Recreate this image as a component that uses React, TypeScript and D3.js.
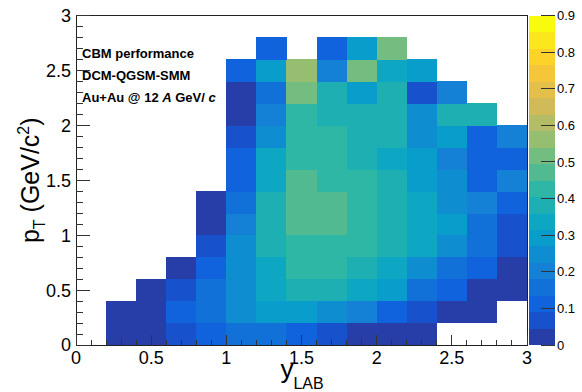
import React from "react";
import * as d3 from "d3";

// pT bins (rows, 0.2 GeV/c wide, from pT = 0 upward) x y_LAB bins (columns, 0.2 wide, from y = 0)
const Y_BIN = 0.2;
const PT_BIN = 0.2;
const VALUES: (number | null)[][] = [
  [null, 0.02, 0.03, 0.07, 0.11, 0.16, 0.15, 0.12, 0.06, 0.03, 0.03, 0.02, null, null, null],
  [null, 0.03, 0.04, 0.11, 0.16, 0.25, 0.29, 0.29, 0.24, 0.2, 0.12, 0.07, 0.03, 0.02, null],
  [null, null, 0.03, 0.06, 0.16, 0.25, 0.34, 0.38, 0.37, 0.33, 0.29, 0.15, 0.11, 0.03, 0.02],
  [null, null, null, 0.03, 0.11, 0.25, 0.34, 0.42, 0.42, 0.38, 0.34, 0.25, 0.16, 0.1, 0.03],
  [null, null, null, null, 0.07, 0.25, 0.38, 0.43, 0.43, 0.42, 0.38, 0.34, 0.25, 0.16, 0.07],
  [null, null, null, null, 0.03, 0.2, 0.38, 0.47, 0.47, 0.43, 0.38, 0.34, 0.29, 0.16, 0.07],
  [null, null, null, null, 0.02, 0.16, 0.38, 0.47, 0.47, 0.43, 0.38, 0.34, 0.25, 0.2, 0.11],
  [null, null, null, null, null, 0.11, 0.34, 0.47, 0.43, 0.43, 0.38, 0.29, 0.25, 0.11, 0.2],
  [null, null, null, null, null, 0.11, 0.34, 0.43, 0.43, 0.38, 0.34, 0.29, 0.2, 0.11, 0.11],
  [null, null, null, null, null, 0.07, 0.25, 0.43, 0.43, 0.38, 0.38, 0.25, 0.29, 0.11, 0.2],
  [null, null, null, null, null, 0.03, 0.2, 0.43, 0.38, 0.38, 0.38, 0.25, 0.38, 0.38, null],
  [null, null, null, null, null, 0.03, 0.16, 0.52, 0.38, 0.29, 0.38, 0.07, 0.2, null, null],
  [null, null, null, null, null, 0.11, 0.29, 0.56, 0.2, 0.52, 0.34, 0.29, null, null, null],
  [null, null, null, null, null, null, 0.11, null, 0.12, 0.29, 0.52, null, null, null, null],
  [null, null, null, null, null, null, null, null, null, null, null, null, null, null, null],
];

const X_TICKS = ["0", "0.5", "1", "1.5", "2", "2.5", "3"];
const Y_TICKS = ["0", "0.5", "1", "1.5", "2", "2.5", "3"];
const Z_TICKS = ["0", "0.1", "0.2", "0.3", "0.4", "0.5", "0.6", "0.7", "0.8", "0.9"];
const Z_MIN = 0;
const Z_MAX = 0.9;
const N_CONTOURS = 20;
const INFO_LINES = ["CBM performance", "DCM-QGSM-SMM"];

// ROOT kBird palette stops
const BIRD_STOPS = [0.0, 0.125, 0.25, 0.375, 0.5, 0.625, 0.75, 0.875, 1.0];
const BIRD_R = [0.2082, 0.0592, 0.078, 0.0232, 0.1802, 0.5301, 0.8186, 0.9956, 0.9764];
const BIRD_G = [0.1664, 0.3599, 0.5041, 0.6419, 0.7178, 0.7492, 0.7328, 0.7862, 0.9832];
const BIRD_B = [0.5293, 0.8684, 0.8385, 0.7914, 0.6425, 0.4662, 0.3499, 0.1968, 0.0539];

const birdR = d3.scaleLinear(BIRD_STOPS, BIRD_R).clamp(true);
const birdG = d3.scaleLinear(BIRD_STOPS, BIRD_G).clamp(true);
const birdB = d3.scaleLinear(BIRD_STOPS, BIRD_B).clamp(true);
const bird = (t: number) =>
  d3.rgb(birdR(t) * 255, birdG(t) * 255, birdB(t) * 255).formatHex();

const levelColor = (level: number) => {
  const idx = Math.floor(((level + 0.99) * 255) / N_CONTOURS);
  return bird(Math.min(idx, 254) / 254);
};
const valueLevel = (v: number) =>
  Math.max(0, Math.min(N_CONTOURS - 1, Math.floor(0.01 + ((v - Z_MIN) * N_CONTOURS) / (Z_MAX - Z_MIN))));

const FONT = "'Liberation Sans', Arial, Helvetica, sans-serif";

const W = 582;
const H = 392;
const L = 76;
const R = 527;
const T = 15.5;
const B = 345;
const BAR_L = 529;
const BAR_R = 555;

export default function App() {
  const x = d3.scaleLinear().domain([0, 3]).range([L, R]);
  const y = d3.scaleLinear().domain([0, 3]).range([B, T]);
  const z = d3.scaleLinear().domain([Z_MIN, Z_MAX]).range([B, T]);

  const cells: React.ReactNode[] = [];
  VALUES.forEach((row, j) =>
    row.forEach((v, i) => {
      if (v === null) return;
      const x0 = x(i * Y_BIN);
      const x1 = x((i + 1) * Y_BIN);
      const y0 = y((j + 1) * PT_BIN);
      const y1 = y(j * PT_BIN);
      cells.push(
        <rect key={`${i}-${j}`} x={x0} y={y0} width={x1 - x0 + 0.3} height={y1 - y0 + 0.3} fill={levelColor(valueLevel(v))} />
      );
    })
  );

  const minor = d3.range(0, 31).map((k) => k / 10);
  const major = X_TICKS.map(Number);
  const isMajor = (v: number) => major.some((m) => Math.abs(m - v) < 1e-6);

  const bands = d3.range(N_CONTOURS).map((k) => {
    const lo = Z_MIN + (k * (Z_MAX - Z_MIN)) / N_CONTOURS;
    const hi = Z_MIN + ((k + 1) * (Z_MAX - Z_MIN)) / N_CONTOURS;
    return { k, lo, hi };
  });

  return (
    <svg width={W} height={H} style={{ position: "absolute", left: 0, top: 0, background: "#fff" }} fontFamily={FONT}>
      <rect x={0} y={0} width={W} height={H} fill="#fff" />
      <g shapeRendering="crispEdges">{cells}</g>

      {/* frame */}
      <rect x={L} y={T} width={R - L} height={B - T} fill="none" stroke="#222" strokeWidth={1} shapeRendering="crispEdges" />

      {/* axis ticks */}
      <g stroke="#333" strokeWidth={1} shapeRendering="crispEdges">
        {minor.map((v) => (
          <line key={`yt${v}`} x1={L} x2={L + (isMajor(v) ? 13.5 : 6.8)} y1={y(v)} y2={y(v)} />
        ))}
        {minor.map((v) => (
          <line key={`xt${v}`} x1={x(v)} x2={x(v)} y1={B} y2={B - (isMajor(v) ? 10 : 5)} />
        ))}
      </g>

      {/* tick labels */}
      <g fontSize={18} fill="#000">
        {Y_TICKS.map((t) => (
          <text key={`yl${t}`} x={71} y={y(Number(t))} dy="0.36em" textAnchor="end">
            {t}
          </text>
        ))}
        {X_TICKS.map((t) => (
          <text key={`xl${t}`} x={x(Number(t))} y={364} textAnchor="middle">
            {t}
          </text>
        ))}
      </g>

      {/* axis titles */}
      <text fontSize={26} textAnchor="middle" x={302} y={377.5}>
        y<tspan fontSize={16} dy={11}>LAB</tspan>
      </text>
      <text fontSize={25} textAnchor="middle" transform={`translate(39,${(T + B) / 2}) rotate(-90)`}>
        p<tspan fontSize={16} dy={6}>T</tspan>
        <tspan dy={-6}> (GeV/c</tspan>
        <tspan fontSize={16} dy={-10}>2</tspan>
        <tspan dy={10}>)</tspan>
      </text>

      {/* info text */}
      <g fontSize={13} fontWeight="bold" fill="#000">
        {INFO_LINES.map((s, k) => (
          <text key={s} x={82} y={57.5 + k * 22}>
            {s}
          </text>
        ))}
        <text x={82} y={101.5}>
          Au+Au @ 12 <tspan fontStyle="italic">A</tspan> GeV/ <tspan fontStyle="italic">c</tspan>
        </text>
      </g>

      {/* palette */}
      <g shapeRendering="crispEdges">
        {bands.map((b) => (
          <rect key={`band${b.k}`} x={BAR_L} y={z(b.hi)} width={BAR_R - BAR_L} height={z(b.lo) - z(b.hi) + 0.3} fill={levelColor(b.k)} />
        ))}
      </g>
      <g stroke="#333" strokeWidth={1} shapeRendering="crispEdges">
        {Z_TICKS.map((t) => (
          <line key={`zt${t}`} x1={BAR_R - 14} x2={BAR_R} y1={z(Number(t))} y2={z(Number(t))} />
        ))}
      </g>
      <g fontSize={13} fill="#000">
        {Z_TICKS.map((t) => (
          <text key={`zl${t}`} x={557} y={z(Number(t))} dy="0.36em">
            {t}
          </text>
        ))}
      </g>
    </svg>
  );
}
